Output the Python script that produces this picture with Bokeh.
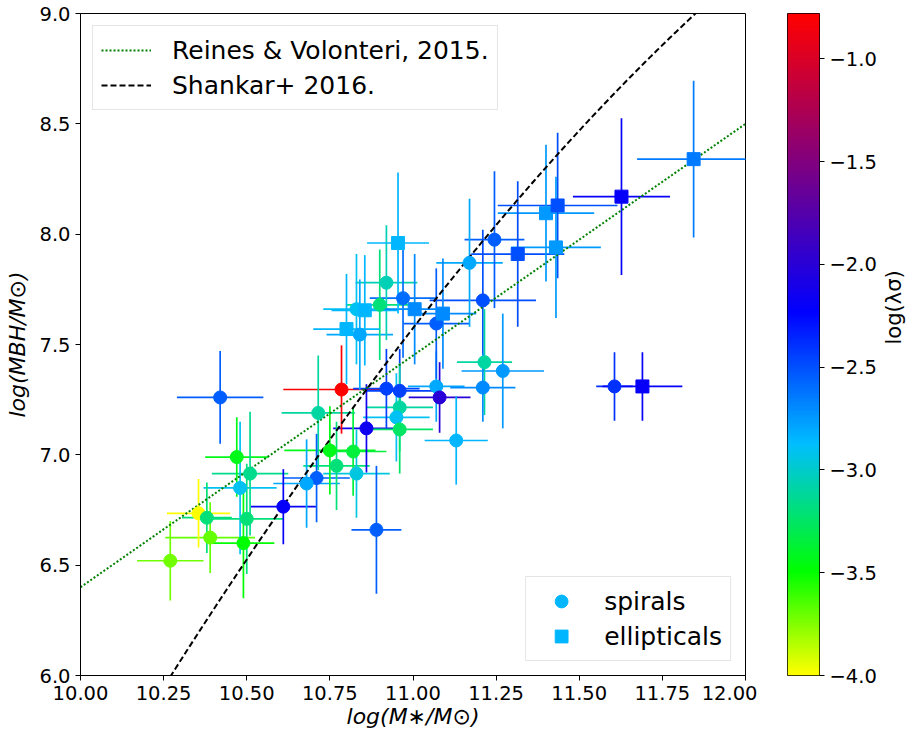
import numpy as np
from bokeh.plotting import figure
from bokeh.layouts import row
from bokeh.models import (ColumnDataSource, Legend, LegendItem, FixedTicker,
                          CustomJSTickFormatter, LinearColorMapper)
from bokeh.embed import file_html
from bokeh.resources import INLINE

# ---------------- data ----------------
sp_x = [10.42, 10.355, 10.47, 10.51, 10.48, 10.38, 10.50, 10.39, 10.49, 10.27,
        10.61, 10.785, 10.92, 10.96, 11.07, 11.08, 10.715, 10.96, 10.95, 10.86,
        10.96, 10.75, 10.82, 10.77, 10.83, 10.71, 10.68, 10.92, 10.97, 10.90,
        10.83, 11.07, 10.84, 11.17, 11.245, 11.21, 11.215, 11.27, 11.21, 11.13,
        10.89, 11.606]
sp_y = [7.26, 6.735, 6.99, 6.915, 6.85, 6.715, 6.71, 6.625, 6.60, 6.52,
        6.765, 7.296, 7.30, 7.29, 7.31, 7.26, 7.19, 7.215, 7.17, 7.12,
        7.115, 7.02, 7.015, 6.95, 6.915, 6.895, 6.87, 7.78, 7.71, 7.68,
        7.66, 7.595, 7.545, 7.87, 7.975, 7.70, 7.42, 7.38, 7.305, 7.065,
        6.66, 7.31]
sp_xerr = [0.13, 0.095, 0.095, 0.115, 0.11, 0.075, 0.11, 0.135, 0.093, 0.10,
           0.098, 0.175, 0.10, 0.10, 0.085, 0.093, 0.11, 0.10, 0.10, 0.10,
           0.10, 0.137, 0.10, 0.10, 0.10, 0.10, 0.10, 0.093, 0.10, 0.10,
           0.10, 0.10, 0.10, 0.10, 0.09, 0.16, 0.083, 0.124, 0.098, 0.095,
           0.075, 0.055]
sp_yerr = [0.21, 0.155, 0.18, 0.28, 0.30, 0.16, 0.25, 0.16, 0.25, 0.18,
           0.17, 0.20, 0.18, 0.19, 0.16, 0.16, 0.26, 0.20, 0.20, 0.20,
           0.20, 0.20, 0.20, 0.20, 0.20, 0.20, 0.20, 0.26, 0.27, 0.25,
           0.25, 0.25, 0.25, 0.29, 0.31, 0.32, 0.24, 0.26, 0.155, 0.20,
           0.29, 0.155]
sp_lam = [-2.55, -4.0, -3.45, -3.15, -2.9, -3.2, -3.2, -3.7, -3.5, -3.72,
          -2.2, -0.78, -2.45, -2.45, -2.8, -2.0, -3.1, -3.1, -2.9, -2.15,
          -3.25, -3.45, -3.35, -3.2, -2.95, -2.55, -2.8, -3.05, -2.6, -3.2,
          -2.9, -2.55, -2.8, -2.8, -2.55, -2.5, -3.1, -2.75, -2.7, -2.85,
          -2.55, -2.4]

el_x = [10.955, 10.855, 11.005, 11.09, 10.80, 11.315, 11.40, 11.435, 11.43,
        11.69, 11.627, 11.844]
el_y = [7.96, 7.655, 7.66, 7.64, 7.57, 7.91, 8.095, 8.13, 7.94,
        7.31, 8.17, 8.34]
el_xerr = [0.093, 0.10, 0.10, 0.10, 0.10, 0.14, 0.145, 0.18, 0.135,
           0.12, 0.146, 0.17]
el_yerr = [0.32, 0.25, 0.25, 0.25, 0.25, 0.33, 0.31, 0.33, 0.32,
           0.155, 0.355, 0.355]
el_lam = [-2.85, -2.85, -2.7, -2.7, -2.85, -2.5, -2.75, -2.5, -2.75,
          -2.2, -2.2, -2.65]

# relations
RV15_a, RV15_b = 7.45, 1.05                         # Reines & Volonteri 2015
SH16_c = [7.574, 1.946, -0.306, -0.011]              # Shankar+ 2016 (cubic)

x_ticks = [10.0, 10.25, 10.5, 10.75, 11.0, 11.25, 11.5, 11.75, 12.0]
y_ticks = [6.0, 6.5, 7.0, 7.5, 8.0, 8.5, 9.0]
cb_ticks = [-4.0, -3.5, -3.0, -2.5, -2.0, -1.5, -1.0]
LAM_MIN, LAM_MAX = -4.0, -0.78

# ---------------- colormap ----------------
stops_v = [-4.0, -3.5, -2.875, -2.23, -0.78]
stops_c = [(255, 255, 0), (0, 255, 0), (0, 190, 255), (0, 0, 255), (255, 0, 0)]
vv = np.linspace(LAM_MIN, LAM_MAX, 256)
palette = []
for v in vv:
    r = np.interp(v, stops_v, [c[0] for c in stops_c])
    g = np.interp(v, stops_v, [c[1] for c in stops_c])
    b = np.interp(v, stops_v, [c[2] for c in stops_c])
    palette.append("#%02x%02x%02x" % (int(round(r)), int(round(g)), int(round(b))))


def col(v):
    i = int(round((v - LAM_MIN) / (LAM_MAX - LAM_MIN) * 255))
    return palette[max(0, min(255, i))]


FONT = "DejaVu Sans"
TICK_FS = "19.5px"

p = figure(frame_width=665, frame_height=662, x_range=(10, 12), y_range=(6, 9),
           output_backend="svg", toolbar_location=None,
           min_border_left=80, min_border_right=12, min_border_top=13,
           min_border_bottom=56)
p.grid.visible = False
p.outline_line_color = "black"
p.outline_line_width = 1
p.background_fill_color = "white"

for ax in (p.xaxis[0], p.yaxis[0]):
    ax.axis_line_color = "black"
    ax.major_tick_out = 5
    ax.major_tick_in = 0
    ax.minor_tick_out = 0
    ax.minor_tick_in = 0
    ax.major_label_text_font = FONT
    ax.major_label_text_font_size = TICK_FS
    ax.major_label_text_color = "black"
    ax.axis_label_text_font = FONT
    ax.axis_label_text_font_size = "22px"
    ax.axis_label_text_font_style = "italic"
    ax.axis_label_text_color = "black"

p.xaxis.ticker = FixedTicker(ticks=x_ticks)
p.yaxis.ticker = FixedTicker(ticks=y_ticks)
p.xaxis.formatter = CustomJSTickFormatter(code="return tick.toFixed(2);")
p.yaxis.formatter = CustomJSTickFormatter(code="return tick.toFixed(1);")
p.xaxis.axis_label = "log(M\u2217/M\u2299)"
p.yaxis.axis_label = "log(MBH/M\u2299)"
p.xaxis.axis_label_standoff = 1
p.yaxis.axis_label_standoff = 6

# error bars
def add_err(xs, ys, xe, ye, lam):
    cols = [col(v) for v in lam]
    xs = np.array(xs); ys = np.array(ys); xe = np.array(xe); ye = np.array(ye)
    src = ColumnDataSource(dict(x0=xs - xe, x1=xs + xe, y=ys, x=xs,
                                y0=ys - ye, y1=ys + ye, c=cols))
    p.segment(x0="x0", x1="x1", y0="y", y1="y", line_color="c", line_width=1.7, source=src)
    p.segment(x0="x", x1="x", y0="y0", y1="y1", line_color="c", line_width=1.7, source=src)

add_err(sp_x, sp_y, sp_xerr, sp_yerr, sp_lam)
add_err(el_x, el_y, el_xerr, el_yerr, el_lam)

# relations
xs = np.linspace(10, 12, 300)
d = xs - 11
y_rv = RV15_a + RV15_b * d
y_sh = SH16_c[0] + SH16_c[1] * d + SH16_c[2] * d ** 2 + SH16_c[3] * d ** 3
r_rv = p.line(xs, y_rv, line_color="#008000", line_width=2, line_dash="2 2")
r_sh = p.line(xs, y_sh, line_color="black", line_width=2, line_dash="6 3")

# markers
src_sp = ColumnDataSource(dict(x=sp_x, y=sp_y, c=[col(v) for v in sp_lam]))
src_el = ColumnDataSource(dict(x=el_x, y=el_y, c=[col(v) for v in el_lam]))
p.scatter("x", "y", source=src_sp, marker="circle", size=13, fill_color="c", line_color="c")
p.scatter("x", "y", source=src_el, marker="square", size=13, fill_color="c", line_color="c")

# legend dummies (placed outside the visible range)
leg_col = col(-2.85)
d_sp = p.scatter(x=[-100], y=[-100], marker="circle", size=14, fill_color=leg_col, line_color=leg_col)
d_el = p.scatter(x=[-100], y=[-100], marker="square", size=13, fill_color=leg_col, line_color=leg_col)

common = dict(padding=8, spacing=3, label_height=32, glyph_height=32,
              label_text_font=FONT, label_text_font_size="25px",
              label_text_color="black",
              border_line_color="#cccccc", border_line_width=1,
              background_fill_alpha=0.85)
leg1 = Legend(items=[LegendItem(label="Reines & Volonteri, 2015.", renderers=[r_rv]),
                     LegendItem(label="Shankar+ 2016.", renderers=[r_sh])],
              location="top_left", margin=12, glyph_width=50, label_standoff=21,
              **common)
leg2 = Legend(items=[LegendItem(label="spirals", renderers=[d_sp]),
                     LegendItem(label="ellipticals", renderers=[d_el])],
              location="bottom_right", margin=14, glyph_width=54, label_standoff=16,
              **common)
p.add_layout(leg1, "center")
p.add_layout(leg2, "center")

# ---------------- colorbar ----------------
cb = figure(frame_width=32, frame_height=662, x_range=(0, 1), y_range=(LAM_MIN, LAM_MAX),
            output_backend="svg", toolbar_location=None, x_axis_location=None,
            y_axis_location="right",
            min_border_left=30, min_border_right=90, min_border_top=13,
            min_border_bottom=56)
cb.grid.visible = False
cb.outline_line_color = "black"
mapper = LinearColorMapper(palette=palette, low=LAM_MIN, high=LAM_MAX)
grad = np.linspace(LAM_MIN, LAM_MAX, 512).reshape(512, 1)
cb.image(image=[grad], x=0, y=LAM_MIN, dw=1, dh=LAM_MAX - LAM_MIN, color_mapper=mapper)
ya = cb.yaxis[0]
ya.ticker = FixedTicker(ticks=cb_ticks)
ya.formatter = CustomJSTickFormatter(code="return (tick < 0 ? '\u2212' : '') + Math.abs(tick).toFixed(1);")
ya.major_tick_out = 5
ya.major_tick_in = 0
ya.minor_tick_out = 0
ya.minor_tick_in = 0
ya.axis_line_color = None
ya.major_label_text_font = FONT
ya.major_label_text_font_size = TICK_FS
ya.major_label_text_color = "black"
ya.axis_label = "log(\u03bb\u03c3)"
ya.axis_label_text_font = FONT
ya.axis_label_text_font_size = "21px"
ya.axis_label_text_font_style = "normal"
ya.axis_label_text_color = "black"
ya.axis_label_orientation = np.pi / 2
ya.axis_label_standoff = 14

layout = row(p, cb)
open("out.html", "w").write(file_html(layout, INLINE))
